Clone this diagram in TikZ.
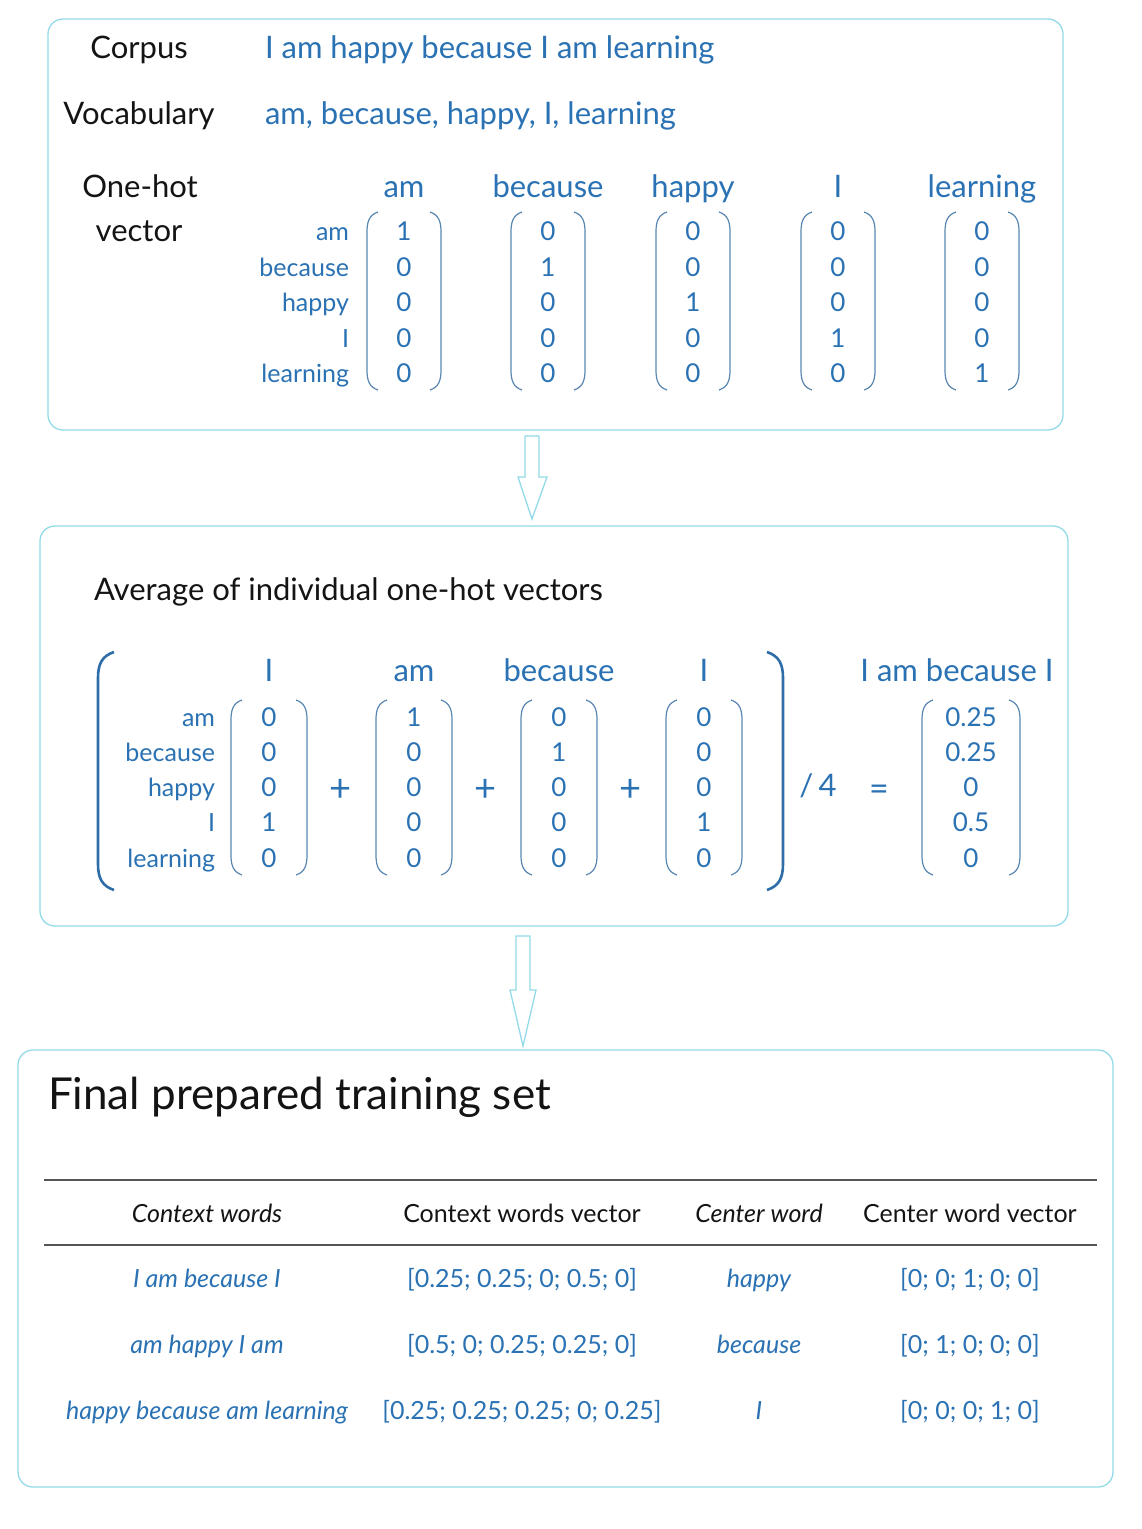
\documentclass[tikz,border=0pt]{standalone}
\usepackage{fontspec}
\setmainfont{Lato}
\definecolor{tblue}{HTML}{2A72B3}
\definecolor{bord}{HTML}{93DBE8}
\definecolor{pcol}{HTML}{5A86B2}
\definecolor{bigb}{HTML}{2E6DA8}
\definecolor{txtblack}{HTML}{141414}
\definecolor{rulec}{HTML}{555555}
\newcommand\FS[1]{\fontsize{#1}{#1}\selectfont}
\newcommand\VecParens[4]{%
  \draw[paren] ({#1-#4+11},#2) .. controls ({#1-#4+2},{#2+3}) and ({#1-#4},{#2+10}) .. ({#1-#4},{#2+20})
     -- ({#1-#4},{#3-20}) .. controls ({#1-#4},{#3-10}) and ({#1-#4+2},{#3-3}) .. ({#1-#4+11},#3);
  \draw[paren] ({#1+#4-11},#2) .. controls ({#1+#4-2},{#2+3}) and ({#1+#4},{#2+10}) .. ({#1+#4},{#2+20})
     -- ({#1+#4},{#3-20}) .. controls ({#1+#4},{#3-10}) and ({#1+#4-2},{#3-3}) .. ({#1+#4-11},#3);
}
\begin{document}
\begin{tikzpicture}[x=1pt,y=-1pt,
  every node/.style={inner sep=0pt, outer sep=0pt, text height=0.5em, text depth=0pt},
  box/.style={draw=bord, line width=1.3pt, rounded corners=15pt},
  paren/.style={draw=pcol, line width=1.2pt},
  bigparen/.style={draw=bigb, line width=2.6pt},
  blk/.style={font=\FS{31}, text=txtblack, yshift=-9pt},
  blu/.style={font=\FS{31}, text=tblue, yshift=-9pt},
  num/.style={font=\FS{26}, text=tblue, yshift=-7pt},
  rowl/.style={font=\FS{25}, text=tblue, anchor=east, yshift=-7pt},
  thdr/.style={font=\FS{25}, text=txtblack, yshift=-7pt},
  tcell/.style={font=\FS{25}, text=tblue, yshift=-7pt},
  ttl/.style={font=\FS{44}, text=txtblack, anchor=west, yshift=-13pt},
  arrowshape/.style={draw=bord, line width=1.3pt, fill=white, line join=miter},
  trule/.style={draw=rulec, line width=1.6pt}]
\useasboundingbox (0,0) rectangle (1142,1529);
\fill[white] (0,0) rectangle (1142,1529);

% ---------- Box 1 ----------
\draw[box] (48,19) rectangle (1063,430);
\node[blk] (corpusL) at (139,47) {Corpus};
\node[blk] (vocabL) at (139,113) {Vocabulary};
\node[blk] (onehotL) at (140,186) {One-hot};
\node[blk] (vectorL) at (139,230) {vector};
\node[blu, anchor=west] (corpusT) at (265,47) {I am happy because I am learning};
\node[blu, anchor=west] (vocabT) at (265,113) {am, because, happy, I, learning};

\foreach \cx/\h [count=\i] in {404/am,548/because,693/happy,838/I,982/learning} {
  \node[blu] (h1-\i) at (\cx,186) {\h};
  \foreach \ry [count=\j] in {231,267,302,338,373} {
    \pgfmathtruncatemacro\v{\i==\j}
    \node[num] (o\i-\j) at (\cx,\ry) {\v};
  }
  \VecParens{\cx}{212}{390}{37}
}
\foreach \ry/\w [count=\j] in {231/am,267/because,302/happy,338/I,373/learning}
  \node[rowl] (r1-\j) at (349,\ry) {\w};

% ---------- Arrow 1 ----------
\coordinate (a1) at (532,519);
\draw[arrowshape] (525,436) -- (539,436) -- (539,477) -- (547,477) -- (a1) -- (518,477) -- (525,477) -- cycle;

% ---------- Box 2 ----------
\draw[box] (40,526) rectangle (1068,926);
\node[blk, anchor=west] (avgT) at (94,589) {Average of individual one-hot vectors};

\draw[bigparen] (114,652) .. controls (102,656) and (98,664) .. (98,678) -- (98,864) .. controls (98,878) and (102,886) .. (114,890);
\draw[bigparen] (767,652) .. controls (779,656) and (783,664) .. (783,678) -- (783,864) .. controls (783,878) and (779,886) .. (767,890);

\foreach \cx/\k/\h [count=\i] in {269/4/I,414/1/am,559/2/because,704/4/I} {
  \node[blu] (h2-\i) at (\cx,670) {\h};
  \foreach \ry [count=\j] in {717,752,787,822,858} {
    \pgfmathtruncatemacro\v{\k==\j}
    \node[num] (p\i-\j) at (\cx,\ry) {\v};
  }
  \VecParens{\cx}{700}{875}{38}
}
\foreach \ry/\w [count=\j] in {717/am,752/because,787/happy,822/I,858/learning}
  \node[rowl] (r2-\j) at (215,\ry) {\w};
\foreach \px [count=\i] in {341,486,631}
  \node[blu, font=\FS{38}] (plus\i) at (\px,790) {+};
\node[blu] (div4) at (818,785) {/\,4};
\node[num, font=\FS{34}] (eq) at (879,791) {=};
\node[blu] (h2r) at (957,670) {I am because I};
\foreach \ry/\v [count=\j] in {717/0.25,752/0.25,787/0,822/0.5,858/0}
  \node[num] (res-\j) at (971,\ry) {\v};
\VecParens{971}{700}{875}{49}

% ---------- Arrow 2 ----------
\coordinate (a2) at (523,1046);
\draw[arrowshape] (516,936) -- (530,936) -- (530,990) -- (536,990) -- (a2) -- (510,990) -- (516,990) -- cycle;

% ---------- Box 3 ----------
\draw[box] (18,1050) rectangle (1113,1487);
\node[ttl] (finalT) at (48,1094) {Final prepared training set};
\coordinate (rt1) at (44,1180);
\coordinate (rt2) at (1097,1180);
\coordinate (rm1) at (44,1245);
\coordinate (rm2) at (1097,1245);
\draw[trule] (rt1) -- (rt2);
\draw[trule] (rm1) -- (rm2);

\node[thdr, font=\FS{25}\itshape] (th1) at (207,1213) {Context words};
\node[thdr] (th2) at (522,1213) {Context words vector};
\node[thdr, font=\FS{25}\itshape] (th3) at (759,1213) {Center word};
\node[thdr] (th4) at (970,1213) {Center word vector};

\foreach \ry/\a/\b/\c/\d [count=\j] in {
  1278/I am because I/{[0.25; 0.25; 0; 0.5; 0]}/happy/{[0; 0; 1; 0; 0]},
  1344/am happy I am/{[0.5; 0; 0.25; 0.25; 0]}/because/{[0; 1; 0; 0; 0]},
  1410/happy because am learning/{[0.25; 0.25; 0.25; 0; 0.25]}/I/{[0; 0; 0; 1; 0]}} {
  \node[tcell, font=\FS{25}\itshape] (c1-\j) at (207,\ry) {\a};
  \node[tcell] (c2-\j) at (522,\ry) {\b};
  \node[tcell, font=\FS{25}\itshape] (c3-\j) at (759,\ry) {\c};
  \node[tcell] (c4-\j) at (970,\ry) {\d};
}
\end{tikzpicture}
\end{document}
